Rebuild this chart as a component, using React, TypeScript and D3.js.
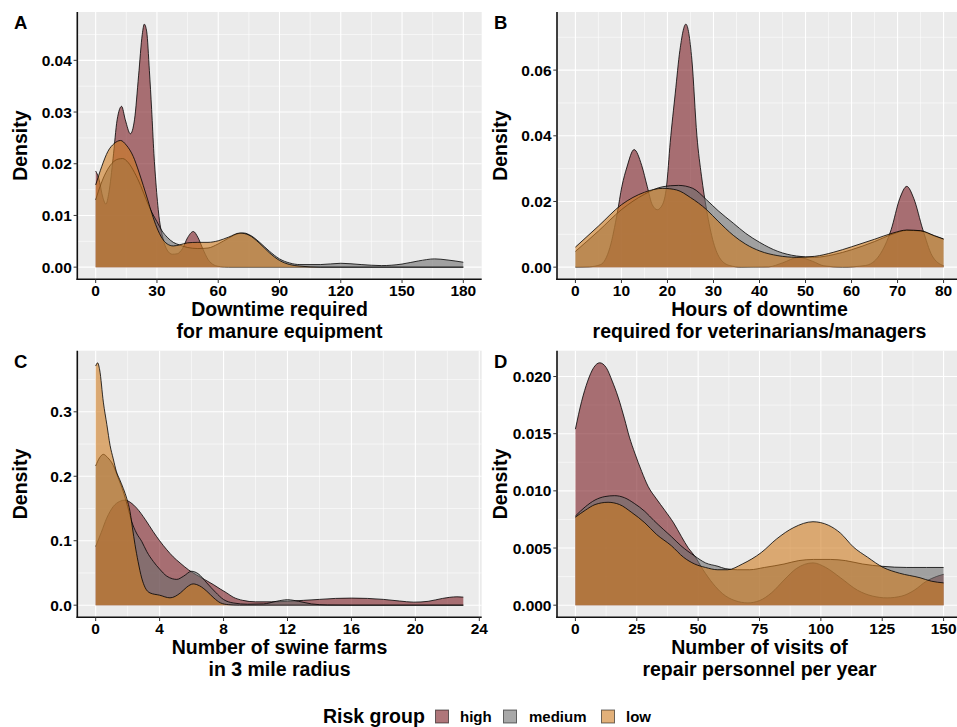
import React from "react";
import * as d3 from "d3";

type Pt = [number, number];

// ---------- Data ----------
const groups = ["high", "medium", "low"];
const groupFill: Record<string, string> = { high: "#7a1b22", medium: "#6e6e6e", low: "#cf7b20" };

// Panel A: Downtime required for manure equipment
const A_high: Pt[] = [[0,0.0186],[1.5,0.0172],[3.5,0.0135],[5,0.0122],[6.5,0.0145],[8.5,0.021],[10.5,0.0285],[12.7,0.0311],[14.5,0.0285],[17,0.0258],[19,0.0285],[21,0.037],[22.8,0.045],[23.8,0.047],[25,0.0455],[26.3,0.038],[27.4,0.0305],[28.5,0.022],[29.5,0.0163],[31,0.0098],[33,0.0055],[35,0.0033],[37.5,0.0025],[40,0.0026],[42.5,0.0036],[45,0.0057],[47.8,0.0069],[50,0.0058],[52.5,0.0035],[55,0.0015],[58,0.0004],[61,0.0001],[65,0],[120,0],[180,0]];
const A_medium: Pt[] = [[0,0.013],[2.5,0.016],[5,0.0183],[8,0.0201],[11,0.0209],[13.2,0.021],[16,0.0202],[19,0.0183],[22,0.0158],[25,0.0128],[27.5,0.0106],[30,0.0088],[32.5,0.007],[35,0.0058],[38,0.0048],[41,0.0043],[45,0.0038],[50,0.0036],[55,0.0037],[60,0.0045],[65,0.0056],[70,0.0065],[72.5,0.0066],[76,0.0061],[80,0.0049],[85,0.0031],[90,0.0016],[95,0.0008],[100,0.0005],[110,0.0005],[120,0.00075],[130,0.0005],[140,0.0003],[150,0.0006],[158,0.0012],[166,0.0016],[172,0.0014],[180,0.00095]];
const A_low: Pt[] = [[0,0.0159],[3,0.0195],[6,0.0224],[9,0.0239],[12.2,0.0245],[15,0.0236],[18.4,0.0214],[21,0.0186],[23.3,0.0158],[25.5,0.013],[27.5,0.0104],[30,0.0076],[32.5,0.0056],[35,0.0045],[38,0.0041],[41,0.0043],[45,0.0047],[50,0.0048],[55,0.0048],[60,0.0051],[65,0.0058],[70.6,0.0066],[75,0.0062],[80,0.0047],[85,0.0028],[90,0.0013],[95,0.0005],[100,0.0002],[110,0],[180,0]];

// Panel B: Hours of downtime required for veterinarians/managers
const B_high: Pt[] = [[0,0],[3,0.0001],[5.5,0.0008],[7.5,0.006],[9.1,0.0165],[10.1,0.0246],[11.2,0.0305],[12.75,0.0358],[14.4,0.031],[15.6,0.0246],[16.7,0.019],[17.8,0.0175],[18.9,0.019],[19.8,0.0246],[20.6,0.038],[21.7,0.053],[22.7,0.066],[24,0.074],[25.3,0.0633],[26.4,0.04],[27.4,0.0277],[28.5,0.0175],[30,0.0075],[31.5,0.0025],[33.5,0.0005],[36,0],[42,0.0001],[45,0.0013],[48.5,0.003],[51.5,0.0018],[54,0.0004],[58,0],[63,0.0005],[66,0.0035],[68.6,0.0114],[70.5,0.021],[72,0.0246],[73.5,0.021],[75.5,0.0114],[77.5,0.0035],[80,0.0004]];
const B_medium: Pt[] = [[0,0.0048],[5,0.011],[10,0.0175],[15,0.0222],[19,0.0245],[22.4,0.0249],[25.5,0.024],[28.5,0.0205],[31,0.0172],[34.3,0.0134],[37,0.0103],[40.1,0.0075],[44,0.0048],[48,0.0034],[52,0.003],[56,0.0038],[60,0.0053],[65,0.0078],[69,0.0101],[72,0.0112],[75,0.011],[78,0.0095],[80,0.0085]];
const B_low: Pt[] = [[0,0.0061],[5,0.0125],[10,0.019],[15,0.0228],[19,0.024],[22,0.0235],[25,0.0212],[28.5,0.0175],[31,0.014],[34.3,0.0097],[37,0.007],[40.1,0.0049],[44,0.0035],[48,0.003],[52,0.0033],[56,0.0045],[60,0.0062],[65,0.0085],[69,0.0104],[72,0.0113],[75,0.0111],[78,0.0096],[80,0.0086]];

// Panel C: Number of swine farms in 3 mile radius
const C_high: Pt[] = [[0,0.091],[0.35,0.113],[0.69,0.135],[1.1,0.153],[1.5,0.161],[1.83,0.163],[2.2,0.159],[2.57,0.1505],[3.1,0.133],[3.6,0.114],[4,0.1],[4.45,0.086],[4.85,0.075],[5.28,0.0655],[5.8,0.055],[6.3,0.047],[6.8,0.04],[7.36,0.032],[7.8,0.025],[8.2,0.019],[8.6,0.0125],[9.2,0.0075],[10,0.0052],[11,0.0052],[12,0.006],[13,0.0075],[14,0.009],[15,0.0105],[16,0.011],[17,0.0105],[18,0.009],[19,0.0065],[19.9,0.0047],[20.8,0.006],[21.7,0.0105],[22.6,0.013],[23,0.0125]];
const C_medium: Pt[] = [[0,0.216],[0.25,0.229],[0.48,0.234],[0.75,0.229],[1.1,0.217],[1.4,0.198],[1.73,0.176],[2,0.153],[2.25,0.13],[2.55,0.112],[2.88,0.099],[3.2,0.083],[3.6,0.068],[4,0.056],[4.45,0.045],[4.8,0.041],[5.07,0.04],[5.5,0.045],[6,0.0526],[6.4,0.049],[6.95,0.0346],[7.5,0.02],[8,0.0088],[8.6,0.0035],[9.5,0.0015],[10.5,0.002],[11.3,0.006],[12,0.0085],[12.7,0.006],[13.5,0.002],[14.5,0.0003],[16,0],[23,0]];
const C_low: Pt[] = [[0,0.371],[0.12,0.376],[0.25,0.365],[0.48,0.315],[0.7,0.28],[0.9,0.248],[1.1,0.227],[1.3,0.207],[1.5,0.195],[1.73,0.181],[1.95,0.165],[2.15,0.145],[2.3,0.12],[2.46,0.094],[2.65,0.068],[2.88,0.042],[3.1,0.027],[3.4,0.019],[4,0.0155],[4.65,0.0114],[5.3,0.019],[5.7,0.028],[6.1,0.033],[6.5,0.03],[6.95,0.0217],[7.4,0.011],[7.8,0.0037],[8.3,0.0008],[9,0],[23,0]];

// Panel D: Number of visits of repair personnel per year
const D_high: Pt[] = [[0,0.0154],[2.5,0.0178],[5,0.0196],[7.5,0.0208],[9.9,0.0212],[12.5,0.0208],[15,0.0196],[17.4,0.0182],[20,0.0163],[22,0.0147],[24.2,0.0133],[27,0.0117],[29.6,0.0104],[33,0.0093],[36.4,0.0083],[40,0.0072],[43.2,0.006],[46,0.005],[48.6,0.0043],[52,0.0031],[56,0.0019],[60,0.001],[65,0.0004],[70.3,0.0002],[75,0.0004],[80,0.0011],[85,0.0022],[90,0.0032],[96.8,0.0037],[102,0.0033],[108,0.0024],[115,0.0013],[121,0.0008],[127,0.00064],[133,0.0008],[138,0.0013],[143,0.0021],[147,0.0025],[150,0.0027]];
const D_medium: Pt[] = [[0,0.0078],[4,0.0086],[8,0.0092],[12,0.0095],[16,0.00958],[20,0.0094],[24,0.0089],[28.3,0.0082],[32,0.0074],[36,0.0066],[39.1,0.006],[43,0.0052],[48.6,0.0043],[53,0.0037],[58.1,0.0034],[61,0.0032],[66,0.0031],[71,0.0031],[77,0.0033],[85,0.0036],[91,0.0039],[97,0.004],[104,0.004],[110,0.0039],[117,0.0036],[125,0.0034],[135,0.0033],[143,0.0033],[150,0.0033]];
const D_low: Pt[] = [[0,0.0077],[4,0.0083],[8,0.0088],[13.3,0.009],[18,0.0088],[23,0.0081],[28.3,0.0072],[33,0.0062],[39.1,0.0052],[44,0.0042],[48.6,0.0036],[53,0.0033],[58,0.0031],[62,0.0031],[68,0.0036],[75.7,0.0046],[82,0.0058],[89,0.0068],[96.8,0.0073],[103,0.007],[108,0.0063],[113.2,0.0051],[119,0.0042],[125.4,0.0033],[132,0.0028],[140.4,0.0024],[145,0.0021],[150,0.00195]];

// Tick values
const A_xTicks = [0, 30, 60, 90, 120, 150, 180];
const A_yTicks = [0, 0.01, 0.02, 0.03, 0.04];
const B_xTicks = [0, 10, 20, 30, 40, 50, 60, 70, 80];
const B_yTicks = [0, 0.02, 0.04, 0.06];
const C_xTicks = [0, 4, 8, 12, 16, 20, 24];
const C_yTicks = [0, 0.1, 0.2, 0.3];
const D_xTicks = [0, 25, 50, 75, 100, 125, 150];
const D_yTicks = [0, 0.005, 0.01, 0.015, 0.02];

const A_title = ["Downtime required", "for manure equipment"];
const B_title = ["Hours of downtime", "required for veterinarians/managers"];
const C_title = ["Number of swine farms", "in 3 mile radius"];
const D_title = ["Number of visits of", "repair personnel per year"];

const legendTitle = "Risk group";

// ---------- Layout ----------
const W = 957, H = 727;
const FONT = "'Liberation Sans', Arial, Helvetica, sans-serif";

const panels = [
  { tag: "A", series: { high: A_high, medium: A_medium, low: A_low }, xTicks: A_xTicks, yTicks: A_yTicks, yFmt: ".2f", title: A_title,
    left: 77.3, right: 481.7, top: 12, bottom: 279.3, tagX: 14, tagY: 28.5 },
  { tag: "B", series: { high: B_high, medium: B_medium, low: B_low }, xTicks: B_xTicks, yTicks: B_yTicks, yFmt: ".2f", title: B_title,
    left: 557, right: 962, top: 12, bottom: 279.3, tagX: 494, tagY: 28.5 },
  { tag: "C", series: { high: C_high, medium: C_medium, low: C_low }, xTicks: C_xTicks, yTicks: C_yTicks, yFmt: ".1f", title: C_title,
    left: 77.3, right: 481.7, top: 350.7, bottom: 617.3, tagX: 14, tagY: 367.5 },
  { tag: "D", series: { high: D_high, medium: D_medium, low: D_low }, xTicks: D_xTicks, yTicks: D_yTicks, yFmt: ".3f", title: D_title,
    left: 557, right: 962, top: 350.7, bottom: 617.3, tagX: 494, tagY: 367.5 },
];

function minorOf(ticks: number[], lo: number, hi: number) {
  const step = ticks[1] - ticks[0];
  const out: number[] = [];
  [ticks[0] - step, ...ticks].forEach((t) => {
    const m = t + step / 2;
    if (m > lo && m < hi) out.push(m);
  });
  return out;
}

function Panel({ p, idx }: { p: any; idx: number }) {
  const all: Pt[] = groups.flatMap((g) => p.series[g]);
  const [x0, x1] = d3.extent(all, (d) => d[0]) as [number, number];
  const ymax = d3.max(all, (d) => d[1]) as number;
  const xs = x1 - x0;
  const x = d3.scaleLinear().domain([x0 - 0.05 * xs, x1 + 0.05 * xs]).range([p.left, p.right]);
  const y = d3.scaleLinear().domain([-0.05 * ymax, ymax * 1.05]).range([p.bottom, p.top]);
  const xd = x.domain(), yd = y.domain();
  const xMinor = minorOf(p.xTicks, xd[0], xd[1]);
  const yMinor = minorOf(p.yTicks, yd[0], yd[1]);
  const area = d3.area<Pt>().x((d) => x(d[0])).y0(y(0)).y1((d) => y(d[1])).curve(d3.curveMonotoneX);
  const line = d3.line<Pt>().x((d) => x(d[0])).y((d) => y(d[1])).curve(d3.curveMonotoneX);
  const fmt = d3.format(p.yFmt);
  const cx = (p.left + p.right) / 2;
  const cy = (p.top + p.bottom) / 2;
  const clipId = `clip${idx}`;
  return (
    <g>
      <defs>
        <clipPath id={clipId}>
          <rect x={p.left} y={p.top} width={p.right - p.left} height={p.bottom - p.top} />
        </clipPath>
      </defs>
      <rect x={p.left} y={p.top} width={p.right - p.left} height={p.bottom - p.top} fill="#EBEBEB" />
      {xMinor.map((t) => (
        <line key={"xm" + t} x1={x(t)} x2={x(t)} y1={p.top} y2={p.bottom} stroke="#fff" strokeWidth={0.55} />
      ))}
      {yMinor.map((t) => (
        <line key={"ym" + t} x1={p.left} x2={p.right} y1={y(t)} y2={y(t)} stroke="#fff" strokeWidth={0.55} />
      ))}
      {p.xTicks.map((t: number) => (
        <line key={"xM" + t} x1={x(t)} x2={x(t)} y1={p.top} y2={p.bottom} stroke="#fff" strokeWidth={1.1} />
      ))}
      {p.yTicks.map((t: number) => (
        <line key={"yM" + t} x1={p.left} x2={p.right} y1={y(t)} y2={y(t)} stroke="#fff" strokeWidth={1.1} />
      ))}
      <g clipPath={`url(#${clipId})`}>
        {groups.map((g) => (
          <g key={g}>
            <path d={area(p.series[g]) as string} fill={groupFill[g]} fillOpacity={0.6} />
            <path d={line(p.series[g]) as string} fill="none" stroke="#000" strokeWidth={0.8} />
          </g>
        ))}
      </g>
      {/* axes */}
      <line x1={p.left} x2={p.left} y1={p.top} y2={p.bottom + 0.8} stroke="#111" strokeWidth={1.6} />
      <line x1={p.left - 0.8} x2={p.right} y1={p.bottom} y2={p.bottom} stroke="#111" strokeWidth={1.6} />
      {p.xTicks.map((t: number) => (
        <g key={"xt" + t}>
          <line x1={x(t)} x2={x(t)} y1={p.bottom} y2={p.bottom + 3.7} stroke="#333" strokeWidth={1} />
          <text x={x(t)} y={p.bottom + 17} textAnchor="middle" fontFamily={FONT} fontWeight="bold" fontSize={15.5} fill="#000">
            {t}
          </text>
        </g>
      ))}
      {p.yTicks.map((t: number) => (
        <g key={"yt" + t}>
          <line x1={p.left - 3.7} x2={p.left} y1={y(t)} y2={y(t)} stroke="#333" strokeWidth={1} />
          <text x={p.left - 5.5} y={y(t)} dy="0.36em" textAnchor="end" fontFamily={FONT} fontWeight="bold" fontSize={15.5} fill="#000">
            {fmt(t)}
          </text>
        </g>
      ))}
      {p.title.map((s: string, i: number) => (
        <text key={"tt" + i} x={cx} y={p.bottom + 37 + i * 21.5} textAnchor="middle" fontFamily={FONT} fontWeight="bold" fontSize={19.5} fill="#000">
          {s}
        </text>
      ))}
      <text transform={`translate(${p.left - 57},${cy}) rotate(-90)`} textAnchor="middle" dy="0.36em" fontFamily={FONT} fontWeight="bold" fontSize={19.5} fill="#000">
        Density
      </text>
      <text x={p.tagX} y={p.tagY} fontFamily={FONT} fontWeight="bold" fontSize={18.5} fill="#000">
        {p.tag}
      </text>
    </g>
  );
}

export default function App() {
  const legendItems = [
    { g: "high", kx: 435, tx: 460 },
    { g: "medium", kx: 503, tx: 529 },
    { g: "low", kx: 601, tx: 626 },
  ];
  return (
    <svg width={W} height={H} style={{ position: "absolute", left: 0, top: 0, background: "#fff" }}>
      <rect width={W} height={H} fill="#fff" />
      {panels.map((p, i) => (
        <Panel key={p.tag} p={p} idx={i} />
      ))}
      <text x={323} y={723} fontFamily={FONT} fontWeight="bold" fontSize={19.5} fill="#000">
        {legendTitle}
      </text>
      {legendItems.map((it) => (
        <g key={it.g}>
          <rect x={it.kx} y={709.5} width={14} height={14} fill="#fff" />
          <rect x={it.kx + 0.5} y={710} width={13} height={13} fill={groupFill[it.g]} fillOpacity={0.6} stroke="#000" strokeOpacity={0.55} strokeWidth={1} />
          <text x={it.tx} y={722} fontFamily={FONT} fontWeight="bold" fontSize={15} fill="#000">
            {it.g}
          </text>
        </g>
      ))}
    </svg>
  );
}
